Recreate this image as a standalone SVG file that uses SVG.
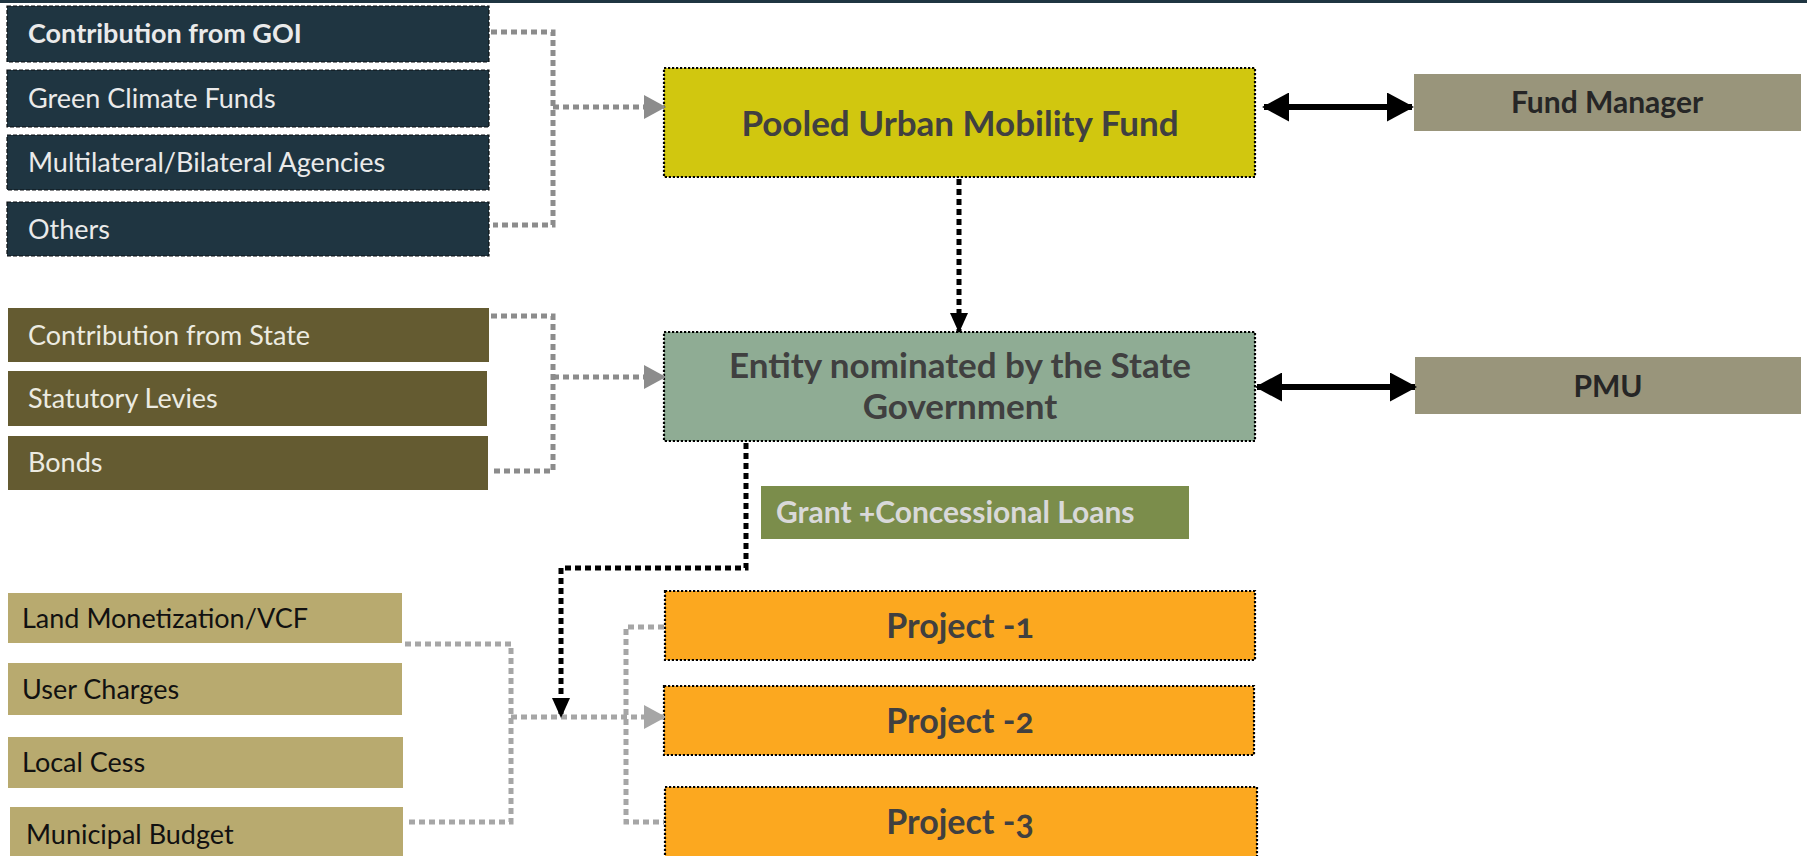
<svg xmlns="http://www.w3.org/2000/svg" width="1807" height="856" viewBox="0 0 1807 856">
  <defs>
    <style>
      text { font-family: Lato, "Open Sans", "Liberation Sans", sans-serif; font-variant-numeric: oldstyle-nums; }
      .src { font-size: 27px; }
      .dark rect { fill: #1f3541; stroke: #0a0f12; stroke-width: 1.2; stroke-dasharray: 4 2; }
      .dark text { fill: #eaeaea; }
      .olive rect { fill: #645b31; }
      .olive text { fill: #ecebe1; }
      .tan rect { fill: #b8aa6f; }
      .tan text { fill: #111111; }
      .main rect { stroke: #000000; stroke-width: 2.2; stroke-dasharray: 2.2 1.8; }
      .main text { font-size: 35px; font-weight: 700; fill: #404040; text-anchor: middle; }
      .main text.proj { font-size: 34px; }
      .side rect { fill: #99957b; }
      .side text { font-size: 30px; font-weight: 700; fill: #262626; text-anchor: middle; }
      .grey-link { fill: none; stroke: #8c8c8c; stroke-width: 5; stroke-dasharray: 6 4; }
      .light-link { fill: none; stroke: #a6a6a6; stroke-width: 5; stroke-dasharray: 6 4; }
      .black-link { fill: none; stroke: #000000; stroke-width: 5; stroke-dasharray: 6 4; }
      .both-way { fill: none; stroke: #000000; stroke-width: 6; }
    </style>
    <marker id="greyHead" markerUnits="userSpaceOnUse" markerWidth="22" markerHeight="24" refX="20" refY="12" orient="auto">
      <path d="M0,0 L22,12 L0,24 z" fill="#8c8c8c"/>
    </marker>
    <marker id="lightHead" markerUnits="userSpaceOnUse" markerWidth="22" markerHeight="24" refX="20" refY="12" orient="auto">
      <path d="M0,0 L22,12 L0,24 z" fill="#a6a6a6"/>
    </marker>
    <marker id="blackHead" markerUnits="userSpaceOnUse" markerWidth="20" markerHeight="18" refX="19" refY="9" orient="auto">
      <path d="M0,0 L20,9 L0,18 z" fill="#000000"/>
    </marker>
    <marker id="bigHead" markerUnits="userSpaceOnUse" markerWidth="27" markerHeight="29" refX="25" refY="14.5" orient="auto-start-reverse">
      <path d="M0,0 L27,14.5 L0,29 z" fill="#000000"/>
    </marker>
  </defs>

  <!-- top rule -->
  <rect x="0" y="0" width="1807" height="3" fill="#1f3541"/>

  <!-- central-government sources -->
  <g id="src-goi" class="dark">
    <rect x="7" y="6" width="482" height="56"/>
    <text class="src" x="28" y="43" font-weight="700">Contribution from GOI</text>
  </g>
  <g id="src-gcf" class="dark">
    <rect x="7" y="70" width="482" height="57"/>
    <text class="src" x="28" y="108">Green Climate Funds</text>
  </g>
  <g id="src-multilateral" class="dark">
    <rect x="7" y="135" width="482" height="55"/>
    <text class="src" x="28" y="172">Multilateral/Bilateral Agencies</text>
  </g>
  <g id="src-others" class="dark">
    <rect x="7" y="202" width="482" height="54"/>
    <text class="src" x="28" y="239">Others</text>
  </g>

  <!-- state sources -->
  <g id="src-state" class="olive">
    <rect x="8" y="308" width="481" height="54"/>
    <text class="src" x="28" y="345">Contribution from State</text>
  </g>
  <g id="src-levies" class="olive">
    <rect x="8" y="371" width="479" height="55"/>
    <text class="src" x="28" y="408">Statutory Levies</text>
  </g>
  <g id="src-bonds" class="olive">
    <rect x="8" y="436" width="480" height="54"/>
    <text class="src" x="28" y="472">Bonds</text>
  </g>

  <!-- local sources -->
  <g id="src-land" class="tan">
    <rect x="8" y="593" width="394" height="50"/>
    <text class="src" x="22" y="628">Land Monetization/VCF</text>
  </g>
  <g id="src-user" class="tan">
    <rect x="8" y="663" width="394" height="52"/>
    <text class="src" x="22" y="699">User Charges</text>
  </g>
  <g id="src-cess" class="tan">
    <rect x="8" y="737" width="395" height="51"/>
    <text class="src" x="22" y="772">Local Cess</text>
  </g>
  <g id="src-municipal" class="tan">
    <rect x="10" y="807" width="393" height="52"/>
    <text class="src" x="26" y="844">Municipal Budget</text>
  </g>

  <!-- central boxes -->
  <g id="pumf" class="main">
    <rect x="664" y="68" width="591" height="109" fill="#d1c70f"/>
    <text x="960" y="136">Pooled Urban Mobility Fund</text>
  </g>
  <g id="entity" class="main">
    <rect x="664" y="332" width="591" height="109" fill="#8fac94"/>
    <text x="960" y="378">Entity nominated by the State</text>
    <text x="960" y="419">Government</text>
  </g>
  <g id="project-1" class="main">
    <rect x="665" y="591" width="590" height="69" fill="#fca81f"/>
    <text class="proj" x="960" y="638">Project -1</text>
  </g>
  <g id="project-2" class="main">
    <rect x="664" y="686" width="590" height="69" fill="#fca81f"/>
    <text class="proj" x="960" y="733">Project -2</text>
  </g>
  <g id="project-3" class="main">
    <rect x="665" y="787" width="592" height="72" fill="#fca81f"/>
    <text class="proj" x="960" y="834">Project -3</text>
  </g>

  <!-- management units -->
  <g id="fund-manager" class="side">
    <rect x="1414" y="74" width="387" height="57"/>
    <text x="1607" y="113">Fund Manager</text>
  </g>
  <g id="pmu" class="side">
    <rect x="1415" y="357" width="386" height="57"/>
    <text x="1608" y="397">PMU</text>
  </g>

  <!-- label on the funding flow -->
  <g id="grant-label">
    <rect x="761" y="486" width="428" height="53" fill="#7b8d4b"/>
    <text x="776" y="523" font-size="30" font-weight="700" fill="#d9d9d9">Grant +Concessional Loans</text>
  </g>

  <!-- connectors -->
  <g id="connectors">
    <path class="grey-link" d="M491,32 H553 V225 H493"/>
    <path class="grey-link" d="M553,107 H664" marker-end="url(#greyHead)"/>
    <path class="grey-link" d="M491,316 H553 V471 H493"/>
    <path class="grey-link" d="M553,377 H664" marker-end="url(#greyHead)"/>

    <path class="light-link" d="M405,644 H511 V822 H405"/>
    <path class="light-link" d="M511,717 H664" marker-end="url(#lightHead)"/>
    <path class="light-link" d="M664,627 H626 V822 H664"/>

    <path class="black-link" d="M959,179 V332" marker-end="url(#blackHead)"/>
    <path class="black-link" d="M746,443 V568 H561 V717" marker-end="url(#blackHead)"/>

    <path class="both-way" d="M1264,107 H1412" marker-start="url(#bigHead)" marker-end="url(#bigHead)"/>
    <path class="both-way" d="M1257,387 H1415" marker-start="url(#bigHead)" marker-end="url(#bigHead)"/>
  </g>
</svg>
